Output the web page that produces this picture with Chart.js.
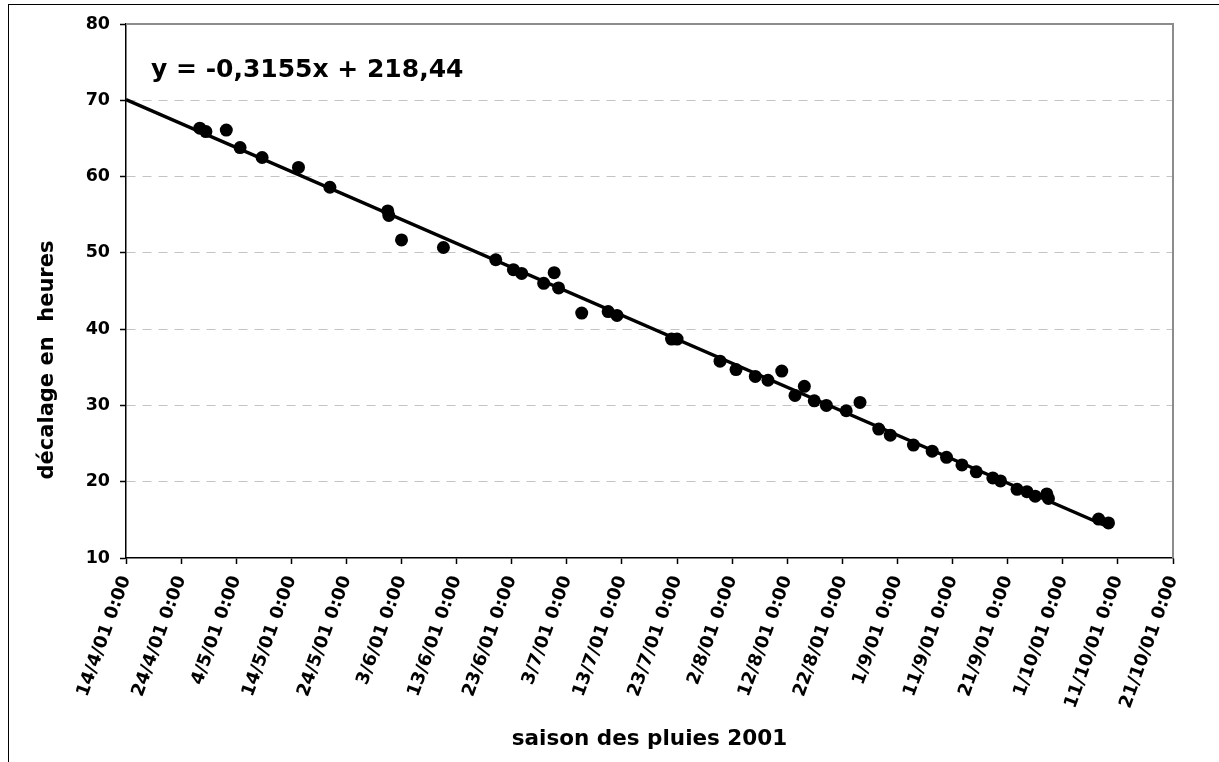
<!DOCTYPE html>
<html lang="fr">
<head>
<meta charset="UTF-8">
<title>décalage en heures - saison des pluies 2001</title>
<script src="https://cdn.jsdelivr.net/npm/chart.js@4/dist/chart.umd.min.js"></script>
<style>
  html, body { margin: 0; padding: 0; background: #fff; overflow: hidden; }
  #frame { position: absolute; left: 8px; top: 4px; width: 1400px; height: 900px; border-top: 1px solid #000; border-left: 1px solid #000; }
  #c { position: absolute; left: 0; top: 0; }
</style>
</head>
<body>
<div id="frame"></div>
<canvas id="c" width="1219" height="762"></canvas>
<script>
// x = days since 14/4/01 0:00, y = décalage (h)
const days = [13.4, 14.5, 18.2, 20.7, 24.7, 31.3, 37.0, 47.5, 47.7, 50.0,
  57.6, 67.1, 70.3, 71.8, 75.8, 77.7, 78.5, 82.7, 87.5, 89.1,
  99.0, 100.0, 107.8, 110.7, 114.2, 116.5, 119.0, 121.4, 123.1, 124.9,
  127.1, 130.7, 133.2, 136.6, 138.7, 142.9, 146.3, 148.9, 151.7, 154.3,
  157.3, 158.7, 161.7, 163.5, 165.0, 167.1, 167.4, 176.5, 178.3];
const decalage = [66.35, 65.9, 66.1, 63.8, 62.5, 61.2, 58.6, 55.5, 54.9, 51.7,
  50.7, 49.1, 47.8, 47.3, 46.0, 47.4, 45.4, 42.1, 42.3, 41.8,
  38.7, 38.7, 35.8, 34.7, 33.8, 33.3, 34.5, 31.3, 32.5, 30.6,
  30.0, 29.3, 30.4, 26.9, 26.1, 24.8, 24.0, 23.2, 22.2, 21.3,
  20.5, 20.1, 19.0, 18.7, 18.1, 18.4, 17.8, 15.1, 14.6];

// trend line ends (as drawn)
const trendDays = [0, 178.5];
const trendValues = [70.1, 14.0];

const xTickLabels = ['14/4/01 0:00', '24/4/01 0:00', '4/5/01 0:00', '14/5/01 0:00', '24/5/01 0:00',
  '3/6/01 0:00', '13/6/01 0:00', '23/6/01 0:00', '3/7/01 0:00', '13/7/01 0:00',
  '23/7/01 0:00', '2/8/01 0:00', '12/8/01 0:00', '22/8/01 0:00', '1/9/01 0:00',
  '11/9/01 0:00', '21/9/01 0:00', '1/10/01 0:00', '11/10/01 0:00', '21/10/01 0:00'];

const equation = 'y = -0,3155x + 218,44';
const yTitle = 'décalage en  heures';
const xTitle = 'saison des pluies 2001';

const FONT = '"DejaVu Sans", "Liberation Sans", sans-serif';
Chart.defaults.font.family = FONT;
Chart.defaults.color = '#000';

const points = days.map((d, i) => ({ x: d, y: decalage[i] }));
const trend = trendDays.map((d, i) => ({ x: d, y: trendValues[i] }));

// plot frame (top/right), y title and equation label
const extras = {
  id: 'extras',
  beforeDatasetsDraw(chart) {
    const { ctx, chartArea: a } = chart;
    ctx.save();
    ctx.strokeStyle = '#8c8c8c';
    ctx.lineWidth = 2;
    ctx.beginPath();
    ctx.moveTo(a.left, a.top);
    ctx.lineTo(a.right, a.top);
    ctx.lineTo(a.right, a.bottom);
    ctx.stroke();
    ctx.restore();
  },
  afterDraw(chart) {
    const ctx = chart.ctx;
    ctx.save();
    ctx.fillStyle = '#000';
    ctx.font = 'bold 25px ' + FONT;
    ctx.textBaseline = 'alphabetic';
    ctx.fillText(equation, 151, 77);
    ctx.translate(53, 360);
    ctx.rotate(-Math.PI / 2);
    ctx.font = 'bold 21px ' + FONT;
    ctx.textAlign = 'center';
    ctx.fillText(yTitle, 0, 0);
    ctx.restore();
  }
};

new Chart(document.getElementById('c'), {
  type: 'scatter',
  data: {
    datasets: [
      {
        label: 'décalage',
        data: points,
        backgroundColor: '#000',
        borderColor: '#000',
        pointRadius: 6.5,
        pointBorderWidth: 0,
        order: 1
      },
      {
        label: 'tendance',
        data: trend,
        showLine: true,
        borderColor: '#000',
        borderWidth: 3.5,
        pointRadius: 0,
        order: 2
      }
    ]
  },
  options: {
    responsive: false,
    devicePixelRatio: 1,
    animation: false,
    layout: { padding: { top: 24, right: 46, left: 0, bottom: 0 } },
    plugins: { legend: { display: false }, tooltip: { enabled: false } },
    scales: {
      x: {
        type: 'linear',
        min: 0,
        max: 190,
        afterFit: s => { s.height = 204; },
        ticks: {
          stepSize: 10,
          autoSkip: false,
          maxRotation: 70,
          minRotation: 70,
          padding: 9,
          font: { size: 18, weight: 'bold' },
          callback: v => xTickLabels[Math.round(v / 10)]
        },
        grid: { drawOnChartArea: false, tickColor: '#000', tickLength: 6, tickWidth: 1.5 },
        border: { color: '#000', width: 1.5 },
        title: {
          display: true,
          text: xTitle,
          font: { size: 21.5, weight: 'bold' },
          padding: { top: 0, bottom: 10 }
        }
      },
      y: {
        min: 10,
        max: 80,
        afterFit: s => { s.width = 126; },
        ticks: { stepSize: 10, padding: 10, font: { size: 17.5, weight: 'bold' } },
        grid: {
          color: c => (c.tick.value === 10 || c.tick.value === 80) ? 'rgba(0,0,0,0)' : '#c4c4c4',
          lineWidth: 1,
          tickColor: '#000',
          tickLength: 6,
          tickWidth: 1.5
        },
        border: { color: '#000', width: 1.5, dash: [9, 7] }
      }
    }
  },
  plugins: [extras]
});
</script>
</body>
</html>
